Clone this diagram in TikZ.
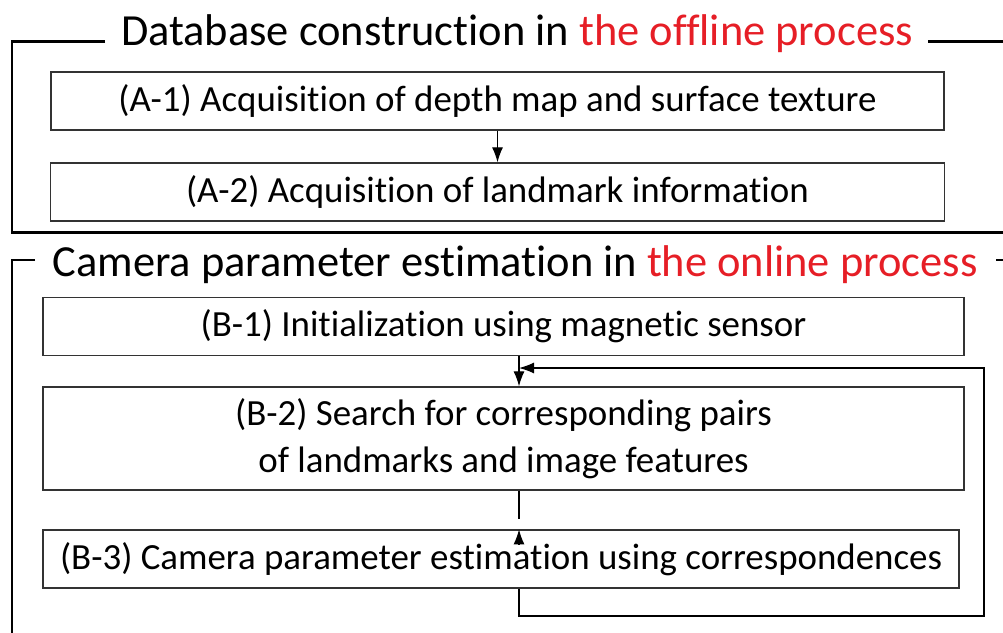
\documentclass[tikz,border=0pt]{standalone}
\usepackage{fontspec}
\setmainfont{Carlito}[Ligatures=NoCommon]
\usetikzlibrary{arrows.meta}
\definecolor{procred}{RGB}{230,30,38}

\begin{document}
\begin{tikzpicture}[x=0.02cm, y=-0.02cm, >={Latex[length=3mm, width=2.2mm]},
    block/.style={draw=black!80, line width=0.7pt, minimum height=1.16cm, inner sep=0pt, font=\fontsize{21}{27}\selectfont},
    frame/.style={line width=1.5pt},
    title/.style={anchor=base, inner sep=0pt, font=\fontsize{25.3}{30}\selectfont},]
    \useasboundingbox (0,0) rectangle (1003,632);
    \node[title] (offline) at (517,45) {Database construction in \textcolor{procred}{the offline process}};
    \draw[frame] (105,41.5) -- (12,41.5) -- (12,232.5) -- (1010,232.5);
    \draw[frame] (928,41.5) -- (1010,41.5);
    \node[block, minimum width=17.86cm] (a1) at (497.5,101) {(A-1) Acquisition of depth map and surface texture};
    \node[block, minimum width=17.88cm, below of=a1, node distance=1.82cm] (a2) {(A-2) Acquisition of landmark information};
    \draw[->, line width=0.7pt] (a1) -- (a2);
    \node[title] (online) at (515,276) {Camera parameter estimation in \textcolor{procred}{the online process}};
    \draw[frame] (35,260) -- (12,260) -- (12,640);
    \draw[frame] (996,260) -- (1010,260);
    \node[block, minimum width=18.42cm] (b1) at (503.5,326.5) {(B-1) Initialization using magnetic sensor};
    \node[block, minimum width=18.42cm, minimum height=2.06cm, align=center, below of=b1, node distance=2.24cm] (b2) {(B-2) Search for corresponding pairs\\of landmarks and image features};
    \node[block, minimum width=18.32cm] (b3) at (501,559) {(B-3) Camera parameter estimation using correspondences};
    \coordinate (join) at (519,368);
    \coordinate (back) at (984,616);
    \coordinate (gap) at (519,519);
    \draw[->, line width=0.7pt] (b1.south -| join) -- (b2.north -| join);
    \draw[line width=0.7pt] (b2.south -| gap) -- (gap);
    \draw[->, line width=0.7pt] ([yshift=-0.3cm]b3.north -| gap) -- (b3.north -| gap);
    \draw[->, line width=0.7pt] (b3.south -| join) |- (back) |- (join);
\end{tikzpicture}
\end{document}
